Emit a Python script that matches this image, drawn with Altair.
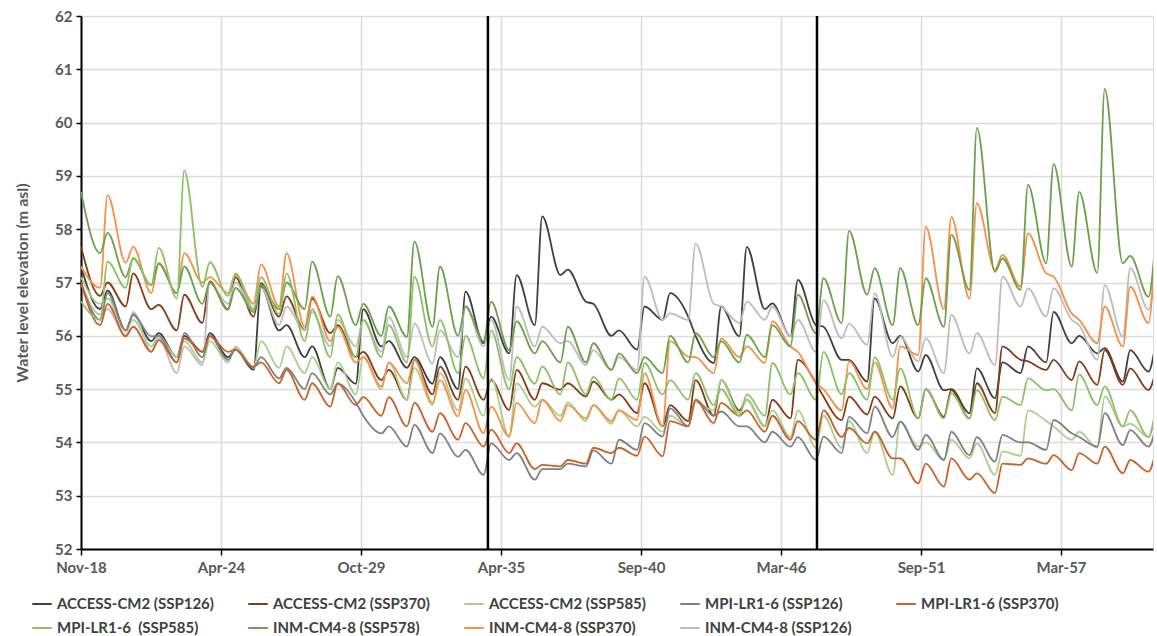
import datetime as dt
import altair as alt
import pandas as pd

# ---------------- data ----------------
series_names = [
    "ACCESS-CM2 (SSP126)", "ACCESS-CM2 (SSP370)", "ACCESS-CM2 (SSP585)",
    "MPI-LR1-6 (SSP126)", "MPI-LR1-6 (SSP370)", "MPI-LR1-6\u00a0 (SSP585)",
    "INM-CM4-8 (SSP578)", "INM-CM4-8 (SSP370)", "INM-CM4-8 (SSP126)",
]
series_colors = [
    "#404040", "#843c15", "#a9d18e",
    "#808080", "#c8622a", "#8cc168",
    "#6aa14a", "#f4914a", "#bdbdbd",
]

# peak values: Nov of 2018 .. 2060 ; trough values: Aug of 2019 .. 2060
access126_peak = [57.3, 56.85, 56.4, 56.05, 56.0, 56.05, 55.75, 56.92, 56.2, 55.8, 55.4, 56.5, 55.9, 55.6, 55.6,
                  56.83, 56.36, 57.14, 58.24, 57.24, 56.6, 56.1, 56.55, 56.8, 56.0, 56.55, 57.67, 56.61, 57.05,
                  56.17, 55.55, 56.7, 56.0, 55.64, 55.0, 55.39, 55.5, 55.8, 56.45, 56.0, 55.77, 55.73, 55.9]
access126_trough = [56.5, 56.1, 55.9, 55.6, 55.7, 55.6, 55.36, 56.1, 55.6, 55.0, 55.1, 55.8, 55.4, 55.1, 55.0,
                    55.86, 55.67, 56.2, 57.14, 56.64, 56.0, 55.74, 56.3, 56.36, 55.49, 55.99, 56.5, 55.99, 56.2,
                    55.55, 55.14, 55.86, 55.33, 54.98, 54.55, 54.83, 55.3, 55.5, 55.86, 55.67, 55.14, 55.33]

access370_peak = [57.67, 57.0, 57.17, 56.58, 56.77, 57.02, 57.1, 56.99, 56.74, 56.7, 56.2, 55.7, 55.36, 55.55,
                  55.42, 55.42, 55.17, 55.36, 55.11, 55.11, 55.14, 54.9, 55.11, 54.7, 55.17, 55.17, 54.8, 54.8,
                  55.55, 54.86, 54.86, 54.86, 55.05, 55.0, 54.98, 55.11, 55.8, 55.52, 55.55, 55.52, 55.73,
                  55.39, 55.35]
access370_trough = [56.75, 56.55, 56.5, 56.1, 56.24, 56.49, 56.36, 56.36, 56.11, 56.05, 55.6, 55.17, 54.8, 54.9,
                    54.8, 54.8, 54.61, 54.8, 54.99, 54.86, 54.8, 54.55, 54.3, 54.4, 54.5, 54.6, 54.3, 54.45,
                    55.11, 54.42, 54.52, 54.45, 54.45, 54.48, 54.45, 54.55, 55.55, 55.36, 55.17, 55.08, 55.08,
                    54.98]

access585_peak = [57.1, 56.7, 56.3, 56.0, 55.9, 55.9, 55.8, 55.9, 55.8, 55.6, 55.5, 55.6, 55.5, 55.4, 55.3, 55.2,
                  55.2, 55.11, 54.8, 54.75, 54.7, 54.6, 54.48, 54.5, 54.75, 55.17, 54.8, 54.6, 54.6, 54.5, 54.4,
                  54.2, 54.39, 54.0, 54.05, 53.98, 53.83, 54.6, 54.3, 54.2, 54.86, 54.35, 54.6]
access585_trough = [56.6, 56.1, 55.8, 55.6, 55.5, 55.5, 55.4, 55.4, 55.3, 55.0, 54.9, 55.0, 54.8, 54.7, 54.6,
                    54.5, 54.11, 54.67, 54.5, 54.4, 54.35, 54.3, 54.2, 54.3, 54.6, 54.55, 54.3, 54.1, 53.9, 53.9,
                    53.8, 53.39, 53.92, 53.67, 53.7, 53.39, 53.75, 54.4, 54.05, 53.9, 54.3, 54.1]

mpi126_peak = [57.0, 56.8, 56.4, 56.0, 56.05, 56.0, 55.74, 55.6, 55.4, 55.3, 55.1, 54.5, 54.3, 54.33, 54.17,
               53.86, 53.98, 53.8, 53.5, 53.6, 53.85, 54.05, 54.36, 54.64, 54.8, 54.58, 54.3, 54.2, 54.1, 54.11,
               54.48, 54.67, 54.39, 54.14, 54.2, 54.1, 54.14, 54.0, 54.42, 54.1, 54.55, 54.23, 54.3]
mpi126_trough = [56.3, 56.1, 55.99, 55.5, 55.6, 55.55, 55.4, 55.2, 55.0, 54.9, 54.75, 54.17, 53.92, 53.8, 53.73,
                 53.39, 53.67, 53.3, 53.5, 53.55, 53.6, 53.86, 54.11, 54.3, 54.5, 54.3, 54.0, 53.92, 53.67, 53.8,
                 54.17, 54.1, 53.86, 53.67, 53.76, 53.64, 54.0, 53.86, 54.17, 53.92, 53.95, 53.92]

mpi370_peak = [57.0, 56.6, 56.17, 55.92, 55.95, 55.99, 55.74, 55.5, 55.36, 55.11, 55.11, 54.85, 54.85, 54.74,
               54.55, 54.36, 54.24, 53.98, 53.58, 53.67, 53.9, 53.9, 54.11, 54.4, 54.8, 54.74, 54.6, 54.5, 54.4,
               54.6, 54.27, 54.2, 53.7, 53.6, 53.7, 53.42, 53.6, 53.7, 53.76, 53.8, 53.92, 53.67, 53.85]
mpi370_trough = [56.2, 55.99, 55.7, 55.5, 55.7, 55.7, 55.42, 55.11, 54.8, 54.67, 54.7, 54.5, 54.3, 54.2, 54.05,
                 53.92, 53.8, 53.5, 53.55, 53.6, 53.8, 53.75, 53.74, 54.3, 54.36, 54.5, 54.2, 54.05, 54.05, 54.1,
                 53.98, 53.7, 53.23, 53.17, 53.3, 53.05, 53.58, 53.6, 53.48, 53.6, 53.42, 53.45]

mpi585_peak = [56.65, 57.39, 57.46, 57.65, 59.1, 57.38, 57.17, 57.1, 57.17, 56.5, 56.4, 56.3, 56.2, 57.11, 56.3,
               56.0, 56.1, 55.6, 55.42, 55.5, 55.23, 55.2, 55.49, 55.17, 55.3, 55.0, 54.9, 55.49, 55.3, 55.7,
               55.3, 55.6, 55.39, 55.0, 54.92, 54.98, 54.86, 55.2, 55.0, 55.27, 55.05, 54.6, 54.67]
mpi585_trough = [56.3, 56.9, 56.95, 56.7, 56.92, 56.75, 56.5, 56.4, 55.9, 55.6, 55.6, 55.6, 55.5, 55.8, 55.3,
                 55.2, 55.0, 55.1, 54.9, 54.9, 54.8, 54.8, 54.9, 54.8, 54.7, 54.5, 54.5, 54.9, 54.8, 54.9, 54.8,
                 54.8, 54.45, 54.45, 54.45, 54.42, 54.7, 54.98, 54.6, 54.7, 54.3, 54.1]

inm578_peak = [58.7, 57.93, 57.45, 57.35, 57.3, 57.0, 56.9, 56.95, 57.0, 57.39, 57.12, 56.6, 56.55, 57.77, 57.3,
               56.55, 56.64, 56.27, 55.9, 56.17, 55.86, 55.67, 55.6, 56.0, 56.05, 55.9, 56.02, 56.2, 56.77,
               57.08, 57.97, 57.27, 57.27, 57.08, 57.9, 59.9, 57.45, 58.83, 59.22, 58.7, 60.63, 57.5, 57.9]
inm578_trough = [57.55, 57.1, 56.95, 56.8, 56.6, 56.5, 56.45, 56.5, 56.5, 56.36, 56.2, 56.0, 55.98, 56.17, 56.0,
                 55.9, 55.73, 55.67, 55.5, 55.5, 55.36, 55.3, 55.3, 55.5, 55.6, 55.5, 55.6, 55.8, 56.05, 56.24,
                 56.77, 56.2, 56.2, 56.17, 56.86, 57.2, 56.86, 57.36, 57.3, 57.18, 57.36, 56.73]

inm370_peak = [57.3, 58.64, 57.67, 57.37, 57.55, 57.1, 57.15, 57.34, 57.55, 56.74, 56.17, 55.6, 55.5, 55.55,
               55.17, 54.98, 54.67, 54.74, 54.8, 54.7, 54.7, 54.6, 55.3, 55.9, 55.6, 55.95, 55.8, 56.27, 55.7,
               55.0, 55.52, 55.5, 55.8, 58.05, 58.23, 58.49, 57.52, 57.92, 57.11, 56.3, 56.55, 56.92, 58.0]
inm370_trough = [56.9, 57.37, 56.8, 56.8, 57.0, 56.8, 56.6, 56.55, 56.17, 55.9, 55.5, 55.05, 55.11, 54.74, 54.49,
                 54.17, 54.11, 54.36, 54.4, 54.45, 54.4, 54.42, 54.3, 55.61, 55.3, 55.6, 55.49, 55.8, 55.11,
                 54.6, 55.0, 54.64, 55.64, 56.5, 56.7, 57.24, 56.92, 57.17, 56.42, 55.86, 55.8, 56.24]

inm126_peak = [57.0, 56.5, 56.45, 55.95, 55.8, 57.0, 57.0, 56.9, 56.55, 56.45, 56.3, 56.3, 56.35, 56.23, 56.1,
               56.55, 56.3, 56.55, 56.17, 55.9, 55.73, 55.6, 57.11, 56.42, 57.73, 56.55, 56.64, 56.55, 56.3,
               56.67, 56.23, 56.8, 55.98, 55.95, 56.39, 56.05, 57.11, 56.89, 56.89, 56.2, 56.95, 57.27, 57.4]
inm126_trough = [56.4, 56.0, 55.7, 55.3, 55.45, 56.6, 56.5, 56.2, 56.1, 55.8, 55.8, 55.7, 55.6, 55.48, 55.6,
                 55.8, 55.17, 55.8, 55.86, 55.45, 55.36, 55.36, 56.3, 56.3, 56.6, 56.24, 56.3, 55.99, 55.7,
                 55.95, 55.83, 55.6, 55.52, 55.3, 55.67, 55.45, 56.55, 56.36, 56.3, 55.55, 55.98, 56.49]

peaks = [access126_peak, access370_peak, access585_peak, mpi126_peak, mpi370_peak, mpi585_peak,
         inm578_peak, inm370_peak, inm126_peak]
troughs = [access126_trough, access370_trough, access585_trough, mpi126_trough, mpi370_trough, mpi585_trough,
           inm578_trough, inm370_trough, inm126_trough]

divider_dates = ["2034-10-01", "2047-08-15"]
y_ticks = list(range(52, 63))

# ---------------- build tables ----------------
rows = []
for name, pk, tr in zip(series_names, peaks, troughs):
    assert len(pk) == 43, (name, len(pk))
    assert len(tr) == 42, (name, len(tr))
    for k, v in enumerate(pk):
        d = "2018-11-01" if k == 0 else f"{2018 + k}-11-15"
        rows.append({"date": d, "series": name, "value": v})
    for k, v in enumerate(tr):
        rows.append({"date": f"{2019 + k}-08-01", "series": name, "value": v})
df = pd.DataFrame(rows).sort_values(["series", "date"])

epoch = dt.datetime(1970, 1, 1)
start = dt.datetime(2018, 11, 1)
def ms(d):
    return int((d - epoch).total_seconds() * 1000)
tick_ms = [ms(start + dt.timedelta(days=2000 * i)) for i in range(8)]
x_domain = [ms(start), ms(dt.datetime(2060, 10, 5))]

FONT = "Lato"
GREY = "#595959"

x_enc = alt.X(
    "date:T",
    scale=alt.Scale(type="utc", domain=x_domain, nice=False),
    axis=alt.Axis(
        values=tick_ms, labelExpr="utcFormat(datum.value, '%b-%y')", title=None,
        labelFlush=False, labelOverlap=False,
        grid=True, gridColor="#dcdcdc", gridWidth=1.5,
        domainColor="#000", domainWidth=2, tickColor="#000", tickSize=6, tickWidth=1.5,
        labelFont=FONT, labelFontSize=15, labelFontWeight="bold", labelColor=GREY, labelPadding=5,
    ),
)

lines = alt.Chart(df).mark_line(strokeWidth=1.8, interpolate="monotone", clip=True).encode(
    x=x_enc,
    y=alt.Y(
        "value:Q",
        scale=alt.Scale(domain=[52, 62], nice=False),
        axis=alt.Axis(
            values=y_ticks, title="Water level elevation (m asl)",
            labelFlush=False,
            grid=True, gridColor="#dcdcdc", gridWidth=1.5,
            domainColor="#000", domainWidth=2, tickColor="#000", tickSize=5, tickWidth=1.5,
            labelFont=FONT, labelFontSize=15, labelFontWeight="bold", labelColor=GREY, labelPadding=4,
            titleFont=FONT, titleFontSize=16, titleFontWeight="bold", titleColor=GREY, titlePadding=24,
        ),
    ),
    color=alt.Color(
        "series:N",
        scale=alt.Scale(domain=series_names, range=series_colors),
        legend=alt.Legend(
            title=None, orient="none", legendX=-50, legendY=577, direction="horizontal", columns=5,
            symbolType="stroke", symbolStrokeWidth=2, symbolSize=380, symbolOffset=0,
            labelFont=FONT, labelFontSize=15, labelFontWeight="bold", labelColor="#404040",
            columnPadding=30, rowPadding=5, gridAlign="all", labelLimit=300,
        ),
    ),
)

dividers = alt.Chart(pd.DataFrame({"date": divider_dates})).mark_rule(
    color="#000", strokeWidth=2.5
).encode(x=alt.X("date:T"))

chart = alt.layer(lines, dividers).properties(
    width=1072, height=533,
    autosize=alt.AutoSizeParams(type="none"),
    padding={"left": 81, "top": 16, "right": 4, "bottom": 87},
).configure_view(stroke="#000", strokeWidth=1.5).configure(background="white")

chart.save("out.html", embed_options={"renderer": "svg", "actions": False})
